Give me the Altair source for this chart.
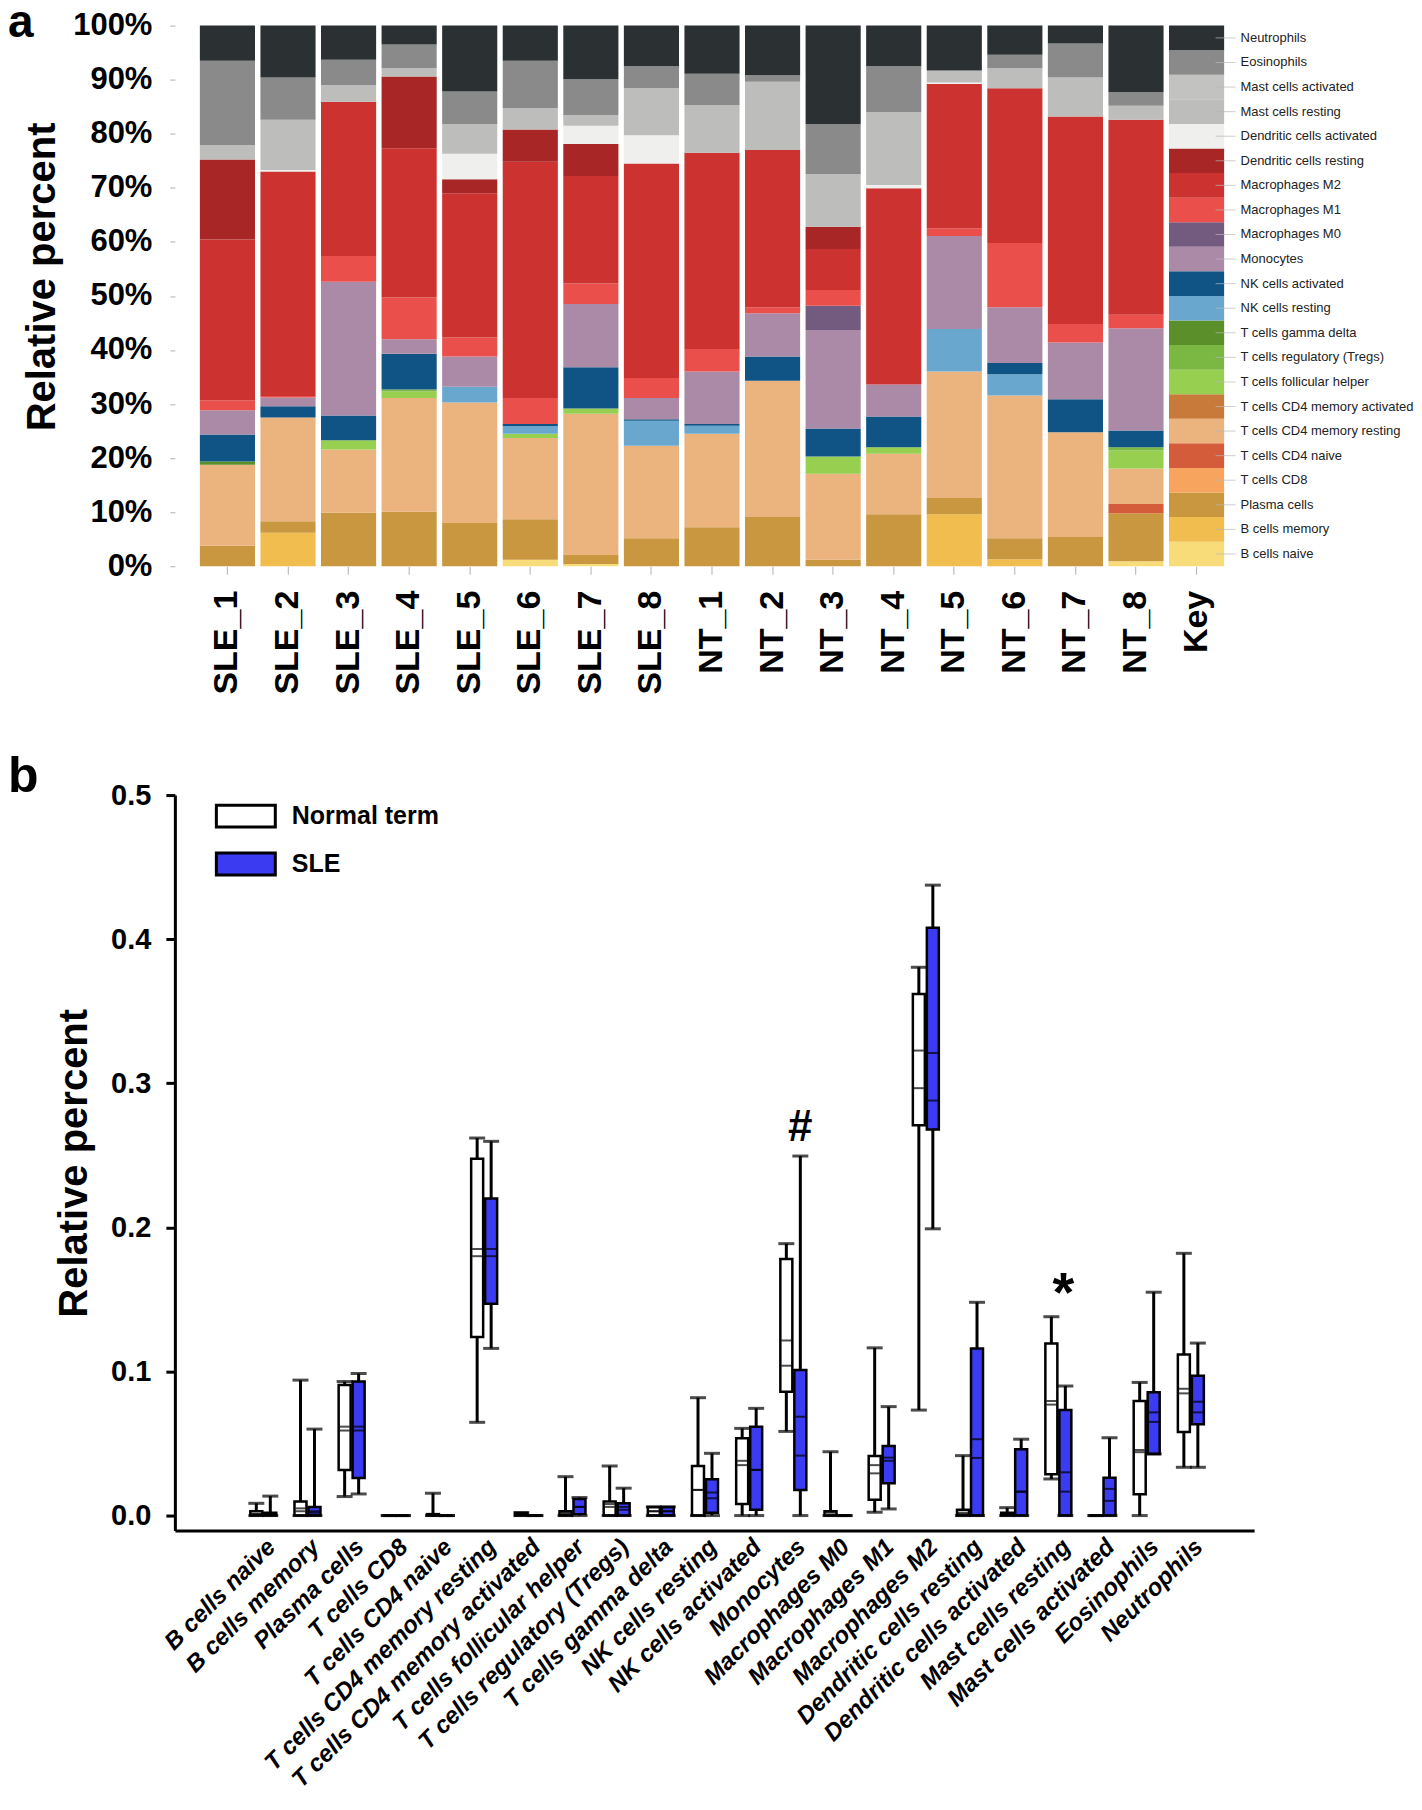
import altair as alt
import pandas as pd

FONT = "Liberation Sans"

# ---------------- panel a data ----------------
samples = ["SLE_1", "SLE_2", "SLE_3", "SLE_4", "SLE_5", "SLE_6", "SLE_7", "SLE_8",
           "NT_1", "NT_2", "NT_3", "NT_4", "NT_5", "NT_6", "NT_7", "NT_8", "Key"]

# stacked bottom -> top
cell_types = ["B cells naive", "B cells memory", "Plasma cells", "T cells CD8", "T cells CD4 naive",
              "T cells CD4 memory resting", "T cells CD4 memory activated", "T cells follicular helper",
              "T cells regulatory (Tregs)", "T cells gamma delta", "NK cells resting", "NK cells activated",
              "Monocytes", "Macrophages M0", "Macrophages M1", "Macrophages M2", "Dendritic cells resting",
              "Dendritic cells activated", "Mast cells resting", "Mast cells activated", "Eosinophils",
              "Neutrophils"]

cell_colors = ["#f9dc7a", "#f2bd4f", "#c9973f", "#f7a55e", "#d45c3a",
               "#ebb37d", "#c87a3a", "#97cf50",
               "#7ab743", "#5a8f2a", "#6aa7cf", "#0f5485",
               "#ab8aa8", "#735a7f", "#ea4f4c", "#cc3330", "#a82626",
               "#efefed", "#bdbdbb", "#c2c2c0", "#8a8a8a",
               "#2b3032"]

# values in % per sample, same order as cell_types
SLE_1 = [0, 0, 3.8, 0, 0, 15.0, 0, 0, 0, 0.6, 0, 5.0, 4.5, 0, 1.8, 29.8, 14.8, 0, 2.7, 0, 15.6, 6.5]
SLE_2 = [0, 6.2, 2.1, 0, 0, 19.2, 0, 0, 0, 0, 0, 2.1, 1.6, 0, 0.3, 41.5, 0, 0.3, 9.3, 0, 7.8, 9.6]
SLE_3 = [0, 0, 9.9, 0, 0, 11.7, 0, 1.7, 0, 0, 0, 4.6, 24.7, 0, 4.8, 28.5, 0, 0, 3.1, 0, 4.7, 6.3]
SLE_4 = [0, 0, 10.1, 0, 0, 21.0, 0, 1.2, 0.4, 0, 0, 6.6, 2.7, 0, 7.7, 27.6, 13.3, 0, 1.5, 0, 4.4, 3.5]
SLE_5 = [0, 0, 8.0, 0, 0, 22.3, 0, 0, 0, 0, 2.9, 0, 5.6, 0, 3.5, 26.7, 2.6, 4.7, 5.5, 0, 6.0, 12.2]
SLE_6 = [1.2, 0, 7.5, 0, 0, 15.0, 0, 0.8, 0, 0, 1.4, 0.4, 0, 0, 4.8, 43.7, 6.0, 0, 3.9, 0, 8.8, 6.5]
SLE_7 = [0.4, 0, 1.7, 0, 0, 26.1, 0, 1.0, 0, 0, 0, 7.6, 11.7, 0, 3.8, 19.9, 5.9, 3.4, 1.9, 0, 6.7, 9.9]
SLE_8 = [0, 0, 5.2, 0, 0, 17.1, 0, 0, 0, 0, 4.6, 0.3, 3.9, 0, 3.7, 39.7, 0, 5.2, 8.7, 0, 4.1, 7.5]
NT_1 = [0, 0, 7.2, 0, 0, 17.3, 0, 0, 0, 0, 1.5, 0.3, 9.7, 0, 4.2, 36.3, 0, 0, 8.8, 0, 5.8, 8.9]
NT_2 = [0, 0, 9.1, 0, 0, 25.2, 0, 0, 0, 0, 0, 4.5, 8.0, 0, 1.1, 29.1, 0, 0, 12.6, 0, 1.2, 9.2]
NT_3 = [0, 0, 1.2, 0, 0, 15.9, 0, 3.2, 0, 0, 0, 5.2, 18.2, 4.5, 2.9, 7.6, 4.1, 0, 9.7, 0, 9.3, 18.2]
NT_4 = [0, 0, 9.6, 0, 0, 11.2, 0, 1.2, 0, 0, 0, 5.7, 5.9, 0, 0, 36.3, 0, 0.6, 13.5, 0, 8.5, 7.5]
NT_5 = [0, 9.6, 3.0, 0, 0, 23.4, 0, 0, 0, 0, 7.9, 0, 17.2, 0, 1.4, 26.7, 0, 0.3, 2.2, 0, 0, 8.3]
NT_6 = [0, 1.3, 3.9, 0, 0, 26.4, 0, 0, 0, 0, 3.9, 2.1, 10.3, 0, 11.9, 28.6, 0, 0, 3.7, 0, 2.5, 5.4]
NT_7 = [0, 0, 5.4, 0, 0, 19.4, 0, 0, 0, 0, 0, 6.1, 10.5, 0, 3.4, 38.4, 0, 0, 7.2, 0, 6.3, 3.3]
NT_8 = [0.9, 0, 8.9, 0, 1.7, 6.6, 0, 3.3, 0.6, 0, 0, 3.1, 18.9, 0, 2.5, 36.1, 0, 0, 2.6, 0, 2.5, 12.3]
KEY = [1] * 22

sample_values = [SLE_1, SLE_2, SLE_3, SLE_4, SLE_5, SLE_6, SLE_7, SLE_8,
                 NT_1, NT_2, NT_3, NT_4, NT_5, NT_6, NT_7, NT_8, KEY]

rows = []
for s, vals in zip(samples, sample_values):
    for i, (ct, v) in enumerate(zip(cell_types, vals)):
        rows.append({"sample": s, "cell": ct, "idx": i, "value": v})
df_a = pd.DataFrame(rows)
df_key = pd.DataFrame({"cell": cell_types, "idx": list(range(len(cell_types)))})

# ---------------- panel b data ----------------
box_cats = ["B cells naive", "B cells memory", "Plasma cells", "T cells CD8", "T cells CD4 naive",
            "T cells CD4 memory resting", "T cells CD4 memory activated", "T cells follicular helper",
            "T cells regulatory (Tregs)", "T cells gamma delta", "NK cells resting", "NK cells activated",
            "Monocytes", "Macrophages M0", "Macrophages M1", "Macrophages M2", "Dendritic cells resting",
            "Dendritic cells activated", "Mast cells resting", "Mast cells activated", "Eosinophils",
            "Neutrophils"]
x_domain = [" "] + box_cats  # one empty slot before the first category

nt_min  = [0, 0, 0.0132, 0, 0, 0.0647, 0, 0, 0, 0, 0, 0, 0.0584, 0, 0.0023, 0.0732, 0, 0, 0.0254, 0, 0, 0.0335]
nt_q1   = [0, 0, 0.0317, 0, 0, 0.124, 0, 0, 0, 0, 0, 0.0081, 0.0859, 0, 0.0109, 0.2708, 0, 0, 0.0286, 0, 0.0148, 0.058]
nt_med  = [0.001, 0.003, 0.059, 0, 0, 0.180, 0.001, 0.001, 0.006, 0.003, 0.0178, 0.035, 0.104, 0, 0.0293, 0.2966, 0.001, 0.001, 0.077, 0, 0.044, 0.0848]
nt_mean = [0.001, 0.005, 0.0617, 0, 0.001, 0.185, 0.001, 0.002, 0.008, 0.003, 0.0178, 0.038, 0.1215, 0.002, 0.035, 0.3227, 0.002, 0.001, 0.0795, 0, 0.0455, 0.088]
nt_q3   = [0.003, 0.0097, 0.0906, 0, 0.001, 0.2476, 0.002, 0.003, 0.0097, 0.006, 0.0344, 0.0536, 0.178, 0.003, 0.0414, 0.362, 0.004, 0.002, 0.1194, 0, 0.0795, 0.1118]
nt_max  = [0.0085, 0.094, 0.093, 0, 0.0155, 0.262, 0.002, 0.027, 0.0344, 0.006, 0.0818, 0.0605, 0.1887, 0.0443, 0.1164, 0.3805, 0.0416, 0.0055, 0.138, 0, 0.0924, 0.182]

sle_min  = [0, 0, 0.015, 0, 0, 0.116, 0, 0, 0, 0, 0, 0, 0, 0, 0.0046, 0.199, 0, 0, 0, 0, 0.0428, 0.0335]
sle_q1   = [0, 0, 0.026, 0, 0, 0.147, 0, 0.001, 0, 0, 0.002, 0.004, 0.0178, 0, 0.0224, 0.268, 0, 0, 0, 0, 0.0428, 0.0633]
sle_med  = [0.001, 0.002, 0.059, 0, 0, 0.180, 0, 0.006, 0.004, 0.003, 0.012, 0.0317, 0.0416, 0, 0.038, 0.288, 0.040, 0.0166, 0.0166, 0.0102, 0.065, 0.0716]
sle_mean = [0.001, 0.003, 0.0617, 0, 0, 0.185, 0, 0.006, 0.006, 0.003, 0.016, 0.0317, 0.0686, 0, 0.0402, 0.321, 0.053, 0.0166, 0.030, 0.0185, 0.0716, 0.079]
sle_q3   = [0.002, 0.006, 0.093, 0, 0, 0.220, 0, 0.0115, 0.0085, 0.006, 0.0252, 0.0617, 0.1011, 0, 0.0483, 0.408, 0.116, 0.046, 0.0732, 0.0263, 0.0855, 0.097]
sle_max  = [0.0135, 0.060, 0.0986, 0, 0, 0.2597, 0, 0.0125, 0.019, 0.006, 0.0432, 0.0744, 0.2495, 0, 0.0756, 0.4375, 0.148, 0.053, 0.0899, 0.054, 0.155, 0.1197]

groups = ["Normal term", "SLE"]
group_fill = ["white", "#3b3bf2"]

brows = []
for g, arrs in [("Normal term", (nt_min, nt_q1, nt_med, nt_mean, nt_q3, nt_max)),
                ("SLE", (sle_min, sle_q1, sle_med, sle_mean, sle_q3, sle_max))]:
    for i, c in enumerate(box_cats):
        brows.append({"cat": c, "group": g, "mn": arrs[0][i], "q1": arrs[1][i], "med": arrs[2][i],
                      "mean": arrs[3][i], "q3": arrs[4][i], "mx": arrs[5][i]})
df_b = pd.DataFrame(brows)

# significance marks (baseline value in data units)
sig_cats = ["Monocytes", "Mast cells resting"]
sig_y = [0.26, 0.142]
sig_text = ["#", "*"]
df_sig = pd.DataFrame({"cat": sig_cats, "y": sig_y, "t": sig_text})

df_letter_a = pd.DataFrame({"t": ["a"]})
df_letter_b = pd.DataFrame({"t": ["b"]})

# ---------------- panel a chart ----------------
xa = alt.X("sample:N", sort=samples,
           scale=alt.Scale(domain=samples, paddingInner=0.09, paddingOuter=0.4125),
           axis=alt.Axis(title=None, labelAngle=-90, labelFontSize=34, labelFontWeight="bold",
                         labelFont=FONT, labelColor="black", domain=False, tickColor="#b0b0b0",
                         tickSize=8, labelPadding=16))
ya_scale = alt.Scale(domain=[0, 1], nice=False)

bars = alt.Chart(df_a).mark_bar().encode(
    x=xa,
    y=alt.Y("value:Q", stack="normalize", scale=ya_scale,
            axis=alt.Axis(format=".0%", values=[i / 10 for i in range(11)], domain=False,
                          tickColor="#b0b0b0", tickSize=5, labelFontSize=31, labelFont=FONT,
                          labelFontWeight="bold", labelColor="black", labelPadding=18, grid=False,
                          title="Relative percent", titleFontSize=40, titleFont=FONT,
                          titleFontWeight="bold", titleColor="black", titlePadding=10,
                          titleY=251)),
    color=alt.Color("cell:N", scale=alt.Scale(domain=cell_types, range=cell_colors), legend=None),
    order=alt.Order("idx:Q", sort="ascending"),
)

key_base = alt.Chart(df_key).transform_calculate(ymid="(datum.idx + 0.5) / 22")
key_lines = key_base.mark_tick(color="#b8b8b8", thickness=1, size=20, xOffset=29).encode(
    x=alt.datum("Key"), y=alt.Y("ymid:Q", scale=ya_scale))
key_text = key_base.mark_text(align="left", baseline="middle", dx=44, fontSize=13,
                              font=FONT, color="#222222").encode(
    x=alt.datum("Key"), y=alt.Y("ymid:Q", scale=ya_scale), text="cell:N")

letter_a = alt.Chart(df_letter_a).mark_text(fontSize=46, fontWeight="bold", font=FONT, color="black",
                                            align="left", baseline="alphabetic").encode(
    x=alt.value(-167), y=alt.value(11), text="t:N")

panel_a = alt.layer(bars, key_lines, key_text, letter_a).properties(width=1075, height=541)

# ---------------- panel b chart ----------------
xb = alt.X("cat:N", sort=x_domain,
           scale=alt.Scale(domain=x_domain, paddingInner=0, paddingOuter=0.717, align=0.35),
           axis=alt.Axis(title=None, labelAngle=-45, labelFontSize=24, labelFontWeight="bold",
                         labelFontStyle="italic", labelFont=FONT, labelColor="black", labelLimit=0,
                         domainColor="black", domainWidth=3, ticks=False, labelPadding=4))
yb_scale = alt.Scale(domain=[-0.0104, 0.5], nice=False, zero=False)
yb_axis = alt.Axis(values=[0, 0.1, 0.2, 0.3, 0.4, 0.5], format=".1f", domainColor="black",
                   domainWidth=3, tickColor="black", tickWidth=3, tickSize=9, labelFontSize=29,
                   labelFontWeight="bold", labelFont=FONT, labelColor="black", labelPadding=15,
                   grid=False, title="Relative percent", titleFontSize=40, titleFont=FONT,
                   titleFontWeight="bold", titleColor="black", titlePadding=16)

layers = []
for g, off in [("Normal term", -7), ("SLE", 7)]:
    base = alt.Chart(df_b).transform_filter(alt.datum.group == g)
    whisk = base.mark_rule(color="black", strokeWidth=3, xOffset=off).encode(
        x=xb, y=alt.Y("mn:Q", scale=yb_scale, axis=yb_axis), y2="mx:Q")
    box = base.mark_bar(size=12, stroke="black", strokeWidth=2.5, xOffset=off).encode(
        x=xb, y=alt.Y("q1:Q", scale=yb_scale), y2="q3:Q",
        fill=alt.Fill("group:N", scale=alt.Scale(domain=groups, range=group_fill),
                      legend=alt.Legend(title=None, orient="none", legendX=40, legendY=-10,
                                        symbolType="M-1,-0.37H1V0.37H-1Z", symbolSize=3480,
                                        symbolStrokeColor="black", symbolStrokeWidth=3,
                                        labelFontSize=25, labelFont=FONT, labelFontWeight="bold",
                                        labelColor="black", labelOffset=15, rowPadding=-40)))
    med = base.mark_tick(color="black", thickness=2, size=10, xOffset=off).encode(
        x=xb, y=alt.Y("med:Q", scale=yb_scale))
    mean = base.mark_tick(color="black", thickness=2, size=10, xOffset=off).encode(
        x=xb, y=alt.Y("mean:Q", scale=yb_scale))
    cap_lo = base.mark_tick(color="black", thickness=3, size=16, xOffset=off).encode(
        x=xb, y=alt.Y("mn:Q", scale=yb_scale))
    cap_hi = base.mark_tick(color="black", thickness=3, size=16, xOffset=off).encode(
        x=xb, y=alt.Y("mx:Q", scale=yb_scale))
    layers += [whisk, box, med, mean, cap_lo, cap_hi]

sig_base = alt.Chart(df_sig)
hash_layer = sig_base.transform_filter(alt.datum.t == "#").mark_text(
    fontSize=44, fontWeight="bold", font=FONT, color="black", baseline="alphabetic", xOffset=7).encode(
    x=xb, y=alt.Y("y:Q", scale=yb_scale), text="t:N")
star_layer = sig_base.transform_filter(alt.datum.t == "*").mark_text(
    fontSize=56, fontWeight="bold", font=FONT, color="black", baseline="alphabetic", xOffset=5).encode(
    x=xb, y=alt.Y("y:Q", scale=yb_scale), text="t:N")
letter_b = alt.Chart(df_letter_b).mark_text(fontSize=50, fontWeight="bold", font=FONT, color="black",
                                            align="left", baseline="alphabetic").encode(
    x=alt.value(-167), y=alt.value(-3), text="t:N")
layers += [hash_layer, star_layer, letter_b]

panel_b = alt.layer(*layers).properties(width=1080, height=736)

chart = alt.vconcat(panel_a, panel_b, spacing=58).resolve_legend(
    fill="independent").configure_view(stroke=None).properties(
    padding={"left": 0, "top": -9, "right": 0, "bottom": 0})

chart.save("out.html", embed_options={"renderer": "svg", "actions": False})
